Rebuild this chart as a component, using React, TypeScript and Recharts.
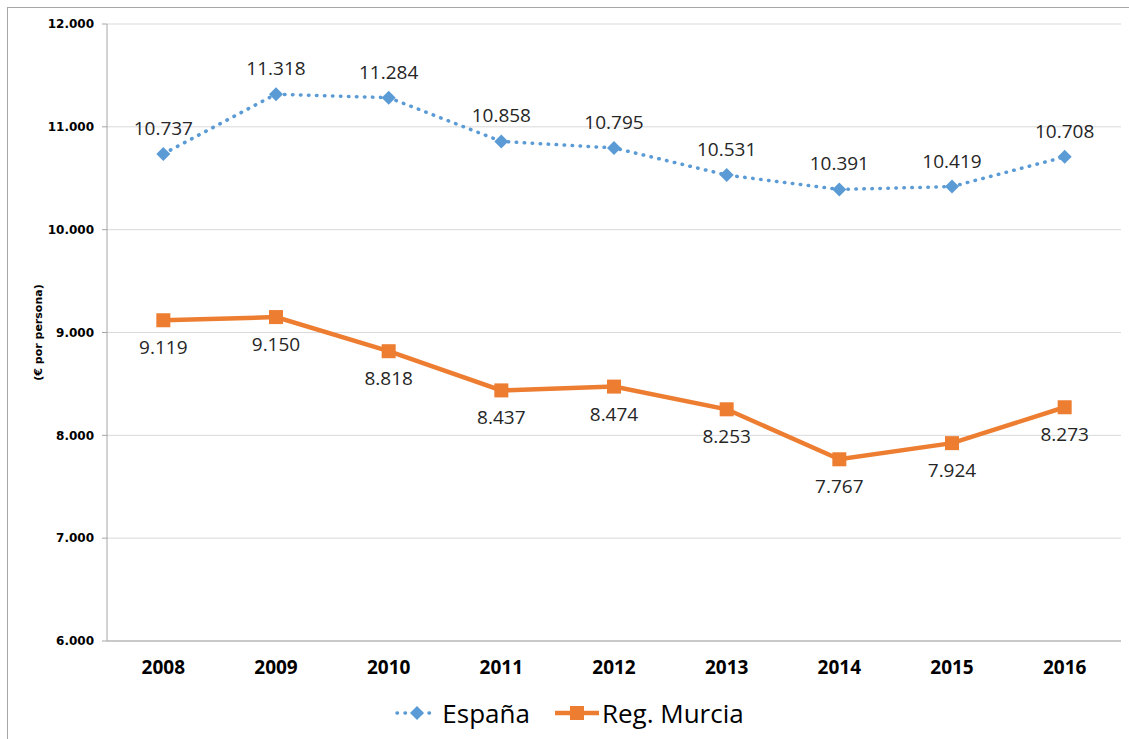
import React from 'react';
import { LineChart, Line, XAxis, YAxis, CartesianGrid, Legend, LabelList } from 'recharts';

const years = ['2008', '2009', '2010', '2011', '2012', '2013', '2014', '2015', '2016'];
const espana = [10737, 11318, 11284, 10858, 10795, 10531, 10391, 10419, 10708];
const murcia = [9119, 9150, 8818, 8437, 8474, 8253, 7767, 7924, 8273];
const yTicks = [6000, 7000, 8000, 9000, 10000, 11000, 12000];
const boundaryTicks = [0, 1, 2, 3, 4, 5, 6, 7, 8, 9];

const BLUE = '#5B9BD5';
const ORANGE = '#ED7D31';
const FONT = '"Open Sans", sans-serif';

const data = years.map((y, i) => ({ year: y, idx: i + 0.5, espana: espana[i], murcia: murcia[i] }));

const fmt = (v: number) => {
  const t = Math.floor(v / 1000);
  const r = Math.round(v % 1000);
  return `${t}.${String(r).padStart(3, '0')}`;
};

const Diamond = (p: any) => {
  const { cx, cy } = p;
  if (cx == null || cy == null) return null;
  const s = 7;
  return <polygon key={`d${p.index}`} points={`${cx},${cy - s} ${cx + s},${cy} ${cx},${cy + s} ${cx - s},${cy}`} fill={BLUE} />;
};

const Square = (p: any) => {
  const { cx, cy } = p;
  if (cx == null || cy == null) return null;
  const s = 7;
  return <rect key={`s${p.index}`} x={cx - s} y={cy - s} width={2 * s} height={2 * s} fill={ORANGE} />;
};

const BoundaryTick = (p: any) => {
  const { x, y } = p;
  if (x == null || y == null) return null;
  return <line x1={x} x2={x} y1={y} y2={y + 7} stroke="#a6a6a6" strokeWidth={1} />;
};

const makeLabel = (dy: number) => (p: any) => {
  const x = p.x ?? p.viewBox?.x;
  const y = p.y ?? p.viewBox?.y;
  if (x == null || y == null) return null;
  return (
    <text x={x} y={y + dy} textAnchor="middle" fontFamily={FONT} fontSize={19} fill="#262626">
      {fmt(Number(p.value))}
    </text>
  );
};

const YLabel = (p: any) => {
  const vb = p.viewBox || { x: 0, y: 0, width: 0, height: 0 };
  const cx = vb.x + 30;
  const cy = vb.y + vb.height / 2;
  return (
    <text x={cx} y={cy} transform={`rotate(-90, ${cx}, ${cy})`} textAnchor="middle" dominantBaseline="central"
      fontFamily='"DejaVu Sans", sans-serif' fontWeight="bold" fontSize={11} fill="#000">
      (€ por persona)
    </text>
  );
};

const LegendContent = () => (
  <div style={{ display: 'flex', justifyContent: 'center', alignItems: 'center', height: 44, fontFamily: FONT, fontSize: 26, color: '#000', paddingLeft: 10 }}>
    <svg width={44} height={20}>
      <line x1={2} x2={42} y1={10} y2={10} stroke={BLUE} strokeWidth={3.5} strokeDasharray="0.5 7.5" strokeLinecap="round" />
      <polygon points="22,3 29,10 22,17 15,10" fill={BLUE} />
    </svg>
    <span style={{ marginLeft: 3 }}>España</span>
    <svg width={46} height={20} style={{ marginLeft: 24 }}>
      <line x1={1} x2={45} y1={10} y2={10} stroke={ORANGE} strokeWidth={4.5} />
      <rect x={16} y={3} width={14} height={14} fill={ORANGE} />
    </svg>
    <span style={{ marginLeft: 2 }}>Reg. Murcia</span>
  </div>
);

export default function App() {
  return (
    <div style={{ position: 'absolute', left: 7, top: 7, borderTop: '1px solid #a6a6a6', borderLeft: '1px solid #a6a6a6', background: '#fff' }}>
      <LineChart width={1121} height={731} data={data} margin={{ top: 16, right: 8, left: 0, bottom: 4 }}>
        <CartesianGrid horizontal vertical={false} stroke="#d9d9d9" xAxisId="cat" yAxisId="l" />
        <XAxis xAxisId="b" type="number" dataKey="idx" domain={[0, 9]} ticks={boundaryTicks} allowDataOverflow interval={0}
          tick={BoundaryTick} tickLine={false} tickSize={0} tickMargin={0} axisLine={false} height={0} />
        <XAxis xAxisId="cat" dataKey="year" type="category" scale="band" height={50} tickLine={false} tickSize={7} tickMargin={13}
          axisLine={{ stroke: '#a6a6a6' }} interval={0}
          tick={{ fontFamily: FONT, fontWeight: 'bold', fontSize: 19, fill: '#000' }} />
        <YAxis yAxisId="l" width={99} domain={[6000, 12000]} ticks={yTicks} tickFormatter={fmt} interval={0}
          axisLine={{ stroke: '#a6a6a6' }} tickLine={{ stroke: '#a6a6a6' }} tickSize={5} tickMargin={8}
          tick={{ fontFamily: '"DejaVu Sans", sans-serif', fontWeight: 'bold', fontSize: 12, fill: '#000' }}
          label={{ content: YLabel }} />
        <YAxis yAxisId="r" orientation="right" width={0} tick={false} tickLine={false} axisLine={{ stroke: '#d9d9d9' }} />
        <Legend verticalAlign="bottom" content={<LegendContent />} />
        <Line xAxisId="cat" yAxisId="l" type="linear" dataKey="espana" name="España" stroke={BLUE} strokeWidth={3.5}
          strokeDasharray="0.5 7.5" strokeLinecap="round" dot={Diamond} activeDot={false} isAnimationActive={false}>
          <LabelList dataKey="espana" content={makeLabel(-19)} />
        </Line>
        <Line xAxisId="cat" yAxisId="l" type="linear" dataKey="murcia" name="Reg. Murcia" stroke={ORANGE} strokeWidth={4.5}
          dot={Square} activeDot={false} isAnimationActive={false}>
          <LabelList dataKey="murcia" content={makeLabel(34)} />
        </Line>
      </LineChart>
    </div>
  );
}
